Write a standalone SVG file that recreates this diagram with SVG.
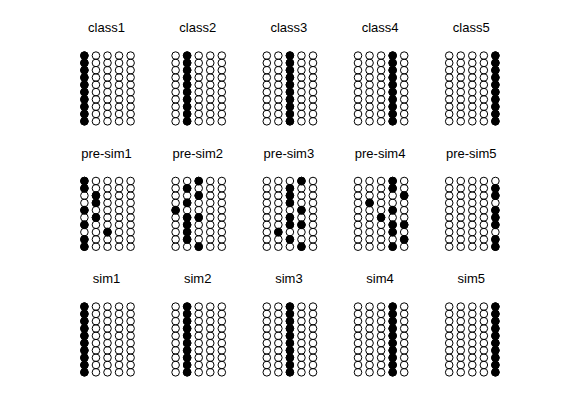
<svg xmlns="http://www.w3.org/2000/svg" xmlns:xlink="http://www.w3.org/1999/xlink" width="561" height="420" viewBox="0 0 561 420">
<style>
.o{fill:none;stroke:#000;stroke-width:1}
.f{fill:#000;stroke:#000;stroke-width:1}
.t{font-family:"Liberation Sans",Arial,sans-serif;font-size:13px;fill:#000;text-anchor:middle}
</style>
<defs>
<g id="oc">
<circle class="o" cx="0" cy="0" r="3.8"/><circle class="o" cx="0" cy="7.3" r="3.8"/><circle class="o" cx="0" cy="14.6" r="3.8"/><circle class="o" cx="0" cy="21.9" r="3.8"/><circle class="o" cx="0" cy="29.2" r="3.8"/><circle class="o" cx="0" cy="36.5" r="3.8"/><circle class="o" cx="0" cy="43.8" r="3.8"/><circle class="o" cx="0" cy="51.1" r="3.8"/><circle class="o" cx="0" cy="58.4" r="3.8"/><circle class="o" cx="0" cy="65.7" r="3.8"/>
</g>
<g id="fc">
<circle class="f" cx="0" cy="0" r="3.8"/><circle class="f" cx="0" cy="7.3" r="3.8"/><circle class="f" cx="0" cy="14.6" r="3.8"/><circle class="f" cx="0" cy="21.9" r="3.8"/><circle class="f" cx="0" cy="29.2" r="3.8"/><circle class="f" cx="0" cy="36.5" r="3.8"/><circle class="f" cx="0" cy="43.8" r="3.8"/><circle class="f" cx="0" cy="51.1" r="3.8"/><circle class="f" cx="0" cy="58.4" r="3.8"/><circle class="f" cx="0" cy="65.7" r="3.8"/>
</g>
<g id="grid">
<use xlink:href="#oc" x="0"/><use xlink:href="#oc" x="11.55"/><use xlink:href="#oc" x="23.1"/><use xlink:href="#oc" x="34.65"/><use xlink:href="#oc" x="46.2"/>
</g>
<circle id="d" class="f" r="3.8"/>
</defs>
<rect width="561" height="420" fill="#fff"/>
<g id="connectors"/>

<g id="class1"><text class="t" x="106.5" y="32">class1</text><g transform="translate(84.4,55.6)"><use xlink:href="#grid"/><use xlink:href="#fc" x="0"/></g></g>
<g id="class2"><text class="t" x="197.7" y="32">class2</text><g transform="translate(175.6,55.6)"><use xlink:href="#grid"/><use xlink:href="#fc" x="11.55"/></g></g>
<g id="class3"><text class="t" x="288.9" y="32">class3</text><g transform="translate(266.8,55.6)"><use xlink:href="#grid"/><use xlink:href="#fc" x="23.1"/></g></g>
<g id="class4"><text class="t" x="380.1" y="32">class4</text><g transform="translate(358,55.6)"><use xlink:href="#grid"/><use xlink:href="#fc" x="34.65"/></g></g>
<g id="class5"><text class="t" x="471.3" y="32">class5</text><g transform="translate(449.2,55.6)"><use xlink:href="#grid"/><use xlink:href="#fc" x="46.2"/></g></g>

<g id="pre-sim1"><text class="t" x="106.5" y="157.6">pre-sim1</text><g transform="translate(84.4,181)"><use xlink:href="#grid"/>
<use xlink:href="#d" x="0" y="0"/><use xlink:href="#d" x="0" y="7.3"/><use xlink:href="#d" x="0" y="29.2"/><use xlink:href="#d" x="0" y="43.8"/><use xlink:href="#d" x="0" y="58.4"/><use xlink:href="#d" x="0" y="65.7"/>
<use xlink:href="#d" x="11.55" y="14.6"/><use xlink:href="#d" x="11.55" y="21.9"/><use xlink:href="#d" x="11.55" y="36.5"/>
<use xlink:href="#d" x="23.1" y="51.1"/>
</g></g>
<g id="pre-sim2"><text class="t" x="197.7" y="157.6">pre-sim2</text><g transform="translate(175.6,181)"><use xlink:href="#grid"/>
<use xlink:href="#d" x="0" y="29.2"/>
<use xlink:href="#d" x="11.55" y="7.3"/><use xlink:href="#d" x="11.55" y="21.9"/><use xlink:href="#d" x="11.55" y="36.5"/><use xlink:href="#d" x="11.55" y="43.8"/><use xlink:href="#d" x="11.55" y="51.1"/><use xlink:href="#d" x="11.55" y="58.4"/>
<use xlink:href="#d" x="23.1" y="0"/><use xlink:href="#d" x="23.1" y="14.6"/><use xlink:href="#d" x="23.1" y="36.5"/><use xlink:href="#d" x="23.1" y="65.7"/>
</g></g>
<g id="pre-sim3"><text class="t" x="288.9" y="157.6">pre-sim3</text><g transform="translate(266.8,181)"><use xlink:href="#grid"/>
<use xlink:href="#d" x="11.55" y="51.1"/>
<use xlink:href="#d" x="23.1" y="7.3"/><use xlink:href="#d" x="23.1" y="14.6"/><use xlink:href="#d" x="23.1" y="21.9"/><use xlink:href="#d" x="23.1" y="36.5"/><use xlink:href="#d" x="23.1" y="43.8"/><use xlink:href="#d" x="23.1" y="58.4"/>
<use xlink:href="#d" x="34.65" y="0"/><use xlink:href="#d" x="34.65" y="29.2"/><use xlink:href="#d" x="34.65" y="43.8"/><use xlink:href="#d" x="34.65" y="65.7"/>
</g></g>
<g id="pre-sim4"><text class="t" x="380.1" y="157.6">pre-sim4</text><g transform="translate(358,181)"><use xlink:href="#grid"/>
<use xlink:href="#d" x="11.55" y="21.9"/>
<use xlink:href="#d" x="23.1" y="36.5"/>
<use xlink:href="#d" x="34.65" y="0"/><use xlink:href="#d" x="34.65" y="7.3"/><use xlink:href="#d" x="34.65" y="29.2"/><use xlink:href="#d" x="34.65" y="43.8"/><use xlink:href="#d" x="34.65" y="51.1"/><use xlink:href="#d" x="34.65" y="65.7"/>
<use xlink:href="#d" x="46.2" y="14.6"/><use xlink:href="#d" x="46.2" y="43.8"/><use xlink:href="#d" x="46.2" y="58.4"/>
</g></g>
<g id="pre-sim5"><text class="t" x="471.3" y="157.6">pre-sim5</text><g transform="translate(449.2,181)"><use xlink:href="#grid"/>
<use xlink:href="#d" x="46.2" y="7.3"/><use xlink:href="#d" x="46.2" y="14.6"/><use xlink:href="#d" x="46.2" y="29.2"/><use xlink:href="#d" x="46.2" y="36.5"/><use xlink:href="#d" x="46.2" y="43.8"/><use xlink:href="#d" x="46.2" y="58.4"/><use xlink:href="#d" x="46.2" y="65.7"/>
</g></g>

<g id="sim1"><text class="t" x="106.5" y="283.2">sim1</text><g transform="translate(84.4,306.6)"><use xlink:href="#grid"/><use xlink:href="#fc" x="0"/></g></g>
<g id="sim2"><text class="t" x="197.7" y="283.2">sim2</text><g transform="translate(175.6,306.6)"><use xlink:href="#grid"/><use xlink:href="#fc" x="11.55"/></g></g>
<g id="sim3"><text class="t" x="288.9" y="283.2">sim3</text><g transform="translate(266.8,306.6)"><use xlink:href="#grid"/><use xlink:href="#fc" x="23.1"/></g></g>
<g id="sim4"><text class="t" x="380.1" y="283.2">sim4</text><g transform="translate(358,306.6)"><use xlink:href="#grid"/><use xlink:href="#fc" x="34.65"/></g></g>
<g id="sim5"><text class="t" x="471.3" y="283.2">sim5</text><g transform="translate(449.2,306.6)"><use xlink:href="#grid"/><use xlink:href="#fc" x="46.2"/></g></g>
</svg>
